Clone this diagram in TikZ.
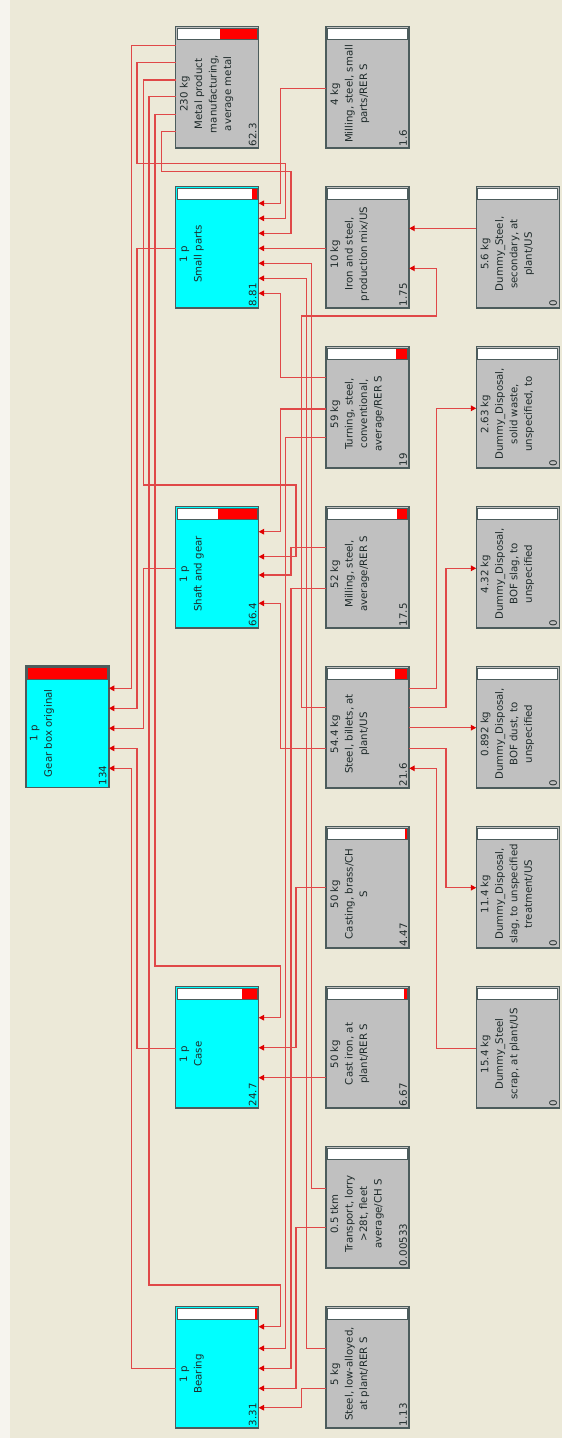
\documentclass[tikz,border=0pt]{standalone}
\usepackage{fontspec}
\setmainfont{DejaVu Sans}
\usetikzlibrary{calc,arrows.meta}
\definecolor{bg}{HTML}{ECE9D8}
\definecolor{bgstrip}{HTML}{F6F4EE}
\definecolor{cyanbox}{HTML}{00FFFF}
\definecolor{graybox}{HTML}{C0C0C0}
\definecolor{boxline}{HTML}{4C5C5C}
\definecolor{flowline}{HTML}{E04848}
\definecolor{tipred}{HTML}{E00000}
\definecolor{barred}{HTML}{FF0000}
\definecolor{boxtext}{HTML}{1E2A2A}
\tikzset{
  procbox/.style={rectangle, draw=boxline, line width=1.5pt, minimum width=83pt, minimum height=121.5pt, inner sep=0pt, outer sep=0pt},
  mainbox/.style={procbox, fill=cyanbox},
  subbox/.style={procbox, fill=graybox},
  lbl/.style={font=\fontsize{10.2}{14.5}\selectfont, align=center, inner sep=0pt, text=boxtext},
  num/.style={font=\fontsize{10.2}{12}\selectfont, inner sep=1pt, text=boxtext},
  barframe/.style={draw=boxline, line width=1pt},
  flow/.style={draw=flowline, line width=1.5pt, -{Triangle[length=5.5pt,width=5.5pt,color=tipred]}}
}
% name, x0, y0, style, red width, text, number
\newcommand\pbox[7]{%
  \node[#4, anchor=north west] (#1) at (#2,#3) {};
  \fill[white] ($(#1.north west)+(1.5,1.5)$) rectangle ($(#1.north east)+(-1.5,13)$);
  \fill[barred] ($(#1.north east)+({-1.5-#5},1.5)$) rectangle ($(#1.north east)+(-1.5,13)$);
  \draw[barframe] ($(#1.north west)+(1.5,1.5)$) rectangle ($(#1.north east)+(-1.5,13)$);
  \node[lbl, rotate=90, anchor=north] (#1-t) at ($(#1.west)+(4,6.5)$) {#6};
  \node[num, rotate=90, anchor=south west] (#1-n) at ($(#1.south east)+(-1,-1)$) {#7};
}
% one bend: src anchor, ys, xmid, dst anchor, yd
\newcommand\lnk[5]{%
  \coordinate (Ys) at (0,#2);
  \coordinate (Yd) at (0,#5);
  \draw[flow] (#1 |- Ys) -- (#3,#2) -- (#3,#5) -- (#4 |- Yd);
}
% two bends: src anchor, ys, x1, ym, x2, dst anchor, yd
\newcommand\lnkk[7]{%
  \coordinate (Ys) at (0,#2);
  \coordinate (Yd) at (0,#7);
  \draw[flow] (#1 |- Ys) -- (#3,#2) -- (#3,#4) -- (#5,#4) -- (#5,#7) -- (#6 |- Yd);
}
% straight
\newcommand\lns[3]{%
  \coordinate (Ys) at (0,#2);
  \draw[flow] (#1 |- Ys) -- (#3 |- Ys);
}
\begin{document}
\begin{tikzpicture}[x=1pt,y=-1pt]
\useasboundingbox (0,0) rectangle (562,1438);
\fill[bg] (0,0) rectangle (562,1438);
\fill[bgstrip] (0,0) rectangle (9.7,1438);

% column 1
\pbox{gear}{25.8}{666}{mainbox}{80}{1 p\\Gear box original}{134}
% column 2
\pbox{metal}{175.6}{26.7}{subbox}{37.2}{230 kg\\Metal product\\manufacturing,\\average metal}{62.3}
\pbox{small}{175.6}{186.7}{mainbox}{5.3}{1 p\\Small parts}{8.81}
\pbox{shaft}{175.6}{506.7}{mainbox}{39.6}{1 p\\Shaft and gear}{66.4}
\pbox{case}{175.6}{986.7}{mainbox}{14.7}{1 p\\Case}{24.7}
\pbox{bearing}{175.6}{1306.7}{mainbox}{2}{1 p\\Bearing}{3.31}
% column 3
\pbox{millsmall}{326.2}{26.7}{subbox}{1.2}{4 kg\\Milling, steel, small\\parts/RER S}{1.6}
\pbox{iron}{326.2}{186.7}{subbox}{1.2}{10 kg\\Iron and steel,\\production mix/US}{1.75}
\pbox{turning}{326.2}{346.7}{subbox}{11.3}{59 kg\\Turning, steel,\\conventional,\\average/RER S}{19}
\pbox{millavg}{326.2}{506.7}{subbox}{10.4}{52 kg\\Milling, steel,\\average/RER S}{17.5}
\pbox{billets}{326.2}{666.7}{subbox}{12.9}{54.4 kg\\Steel, billets, at\\plant/US}{21.6}
\pbox{brass}{326.2}{826.7}{subbox}{2.7}{50 kg\\Casting, brass/CH\\S}{4.47}
\pbox{castiron}{326.2}{986.7}{subbox}{4}{50 kg\\Cast iron, at\\plant/RER S}{6.67}
\pbox{transport}{326.2}{1146.7}{subbox}{0}{0.5 tkm\\Transport, lorry\\>28t, fleet\\average/CH S}{0.00533}
\pbox{lowalloy}{326.2}{1306.7}{subbox}{1}{5 kg\\Steel, low-alloyed,\\at plant/RER S}{1.13}
% column 4
\pbox{dsec}{476.3}{186.7}{subbox}{0}{5.6 kg\\Dummy\_Steel,\\secondary, at\\plant/US}{0}
\pbox{dsolid}{476.3}{346.7}{subbox}{0}{2.63 kg\\Dummy\_Disposal,\\solid waste,\\unspecified, to}{0}
\pbox{dbofslag}{476.3}{506.7}{subbox}{0}{4.32 kg\\Dummy\_Disposal,\\BOF slag, to\\unspecified}{0}
\pbox{dbofdust}{476.3}{666.7}{subbox}{0}{0.892 kg\\Dummy\_Disposal,\\BOF dust, to\\unspecified}{0}
\pbox{dslag}{476.3}{826.7}{subbox}{0}{11.4 kg\\Dummy\_Disposal,\\slag, to unspecified\\treatment/US}{0}
\pbox{dscrap}{476.3}{986.7}{subbox}{0}{15.4 kg\\Dummy\_Steel\\scrap, at plant/US}{0}

% metal product outputs
\lnk{metal.west}{45.7}{131.5}{gear.east}{688.3}
\lnkk{metal.west}{62.7}{137}{163.3}{285.7}{small.east}{218.3}
\lnkk{metal.west}{80}{143.3}{485}{296}{shaft.east}{556.7}
\lnkk{metal.west}{96.7}{149}{1285}{280.7}{bearing.east}{1326.7}
\lnkk{metal.west}{114.3}{155}{966}{280.7}{case.east}{1017.7}
\lnkk{metal.west}{131.7}{161.7}{171.7}{291}{small.east}{233.3}
% column 2 to gear box
\lnk{small.west}{248.3}{137}{gear.east}{708.3}
\lnk{shaft.west}{568.3}{143.3}{gear.east}{728.3}
\lnk{case.west}{1048.3}{137}{gear.east}{748.3}
\lnk{bearing.west}{1368.3}{131.5}{gear.east}{768.3}
% column 3 to column 2
\lnk{millsmall.west}{88.3}{280.7}{small.east}{203.3}
\lns{iron.west}{248.3}{small.east}
\lnk{transport.west}{1188.3}{311.7}{small.east}{263.3}
\lnk{lowalloy.west}{1348.3}{306.7}{small.east}{278.3}
\lnk{turning.west}{377.7}{280.7}{small.east}{293.3}
\lnk{turning.west}{409}{280.7}{shaft.east}{531.7}
\lnk{turning.west}{437.3}{285.7}{bearing.east}{1348.3}
\lnk{millavg.west}{547.7}{291}{shaft.east}{575}
\lnk{millavg.west}{588.3}{291}{bearing.east}{1368.3}
\lnk{billets.west}{748.3}{280.7}{shaft.east}{603.3}
\lnkk{billets.west}{707.3}{301.7}{316}{436.6}{iron.east}{268.3}
\lnk{brass.west}{887.7}{296}{case.east}{1047.7}
\lns{castiron.west}{1077.7}{case.east}
\lnk{transport.west}{1227.3}{296}{bearing.east}{1388.3}
\lnk{lowalloy.west}{1388.3}{301.7}{bearing.east}{1407.7}
% column 4 links
\lns{dsec.west}{228.3}{iron.east}
\lnk{billets.east}{688.3}{436.6}{dsolid.west}{408.3}
\lnk{billets.east}{707.3}{446.2}{dbofslag.west}{568.3}
\lns{billets.east}{727.7}{dbofdust.west}
\lnk{billets.east}{748.3}{446.2}{dslag.west}{887.7}
\lnk{dscrap.west}{1048.3}{436.6}{billets.east}{768.3}
\end{tikzpicture}
\end{document}
